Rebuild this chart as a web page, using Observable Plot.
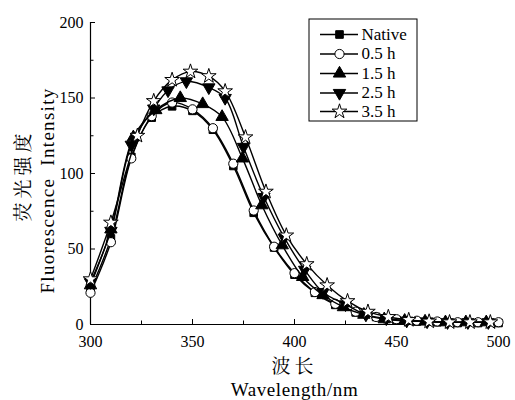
<!DOCTYPE html>
<html><head><meta charset="utf-8">
<script src="https://cdn.jsdelivr.net/npm/d3@7"></script>
<script src="https://cdn.jsdelivr.net/npm/@observablehq/plot@0.6"></script>
<style>body{margin:0;background:#fff;}</style>
</head><body><div id="chart"></div>
<script>
// ---- data ----
const seriesNames = ["Native", "0.5 h", "1.5 h", "2.5 h", "3.5 h"];

const wlNative  = [300,310,320,330,340,350,360,370,380,390,400,410,420,430,440,450,460,470,480,490,500];
const intNative = [23,57,111,137,144.5,141.5,129,105,74,51,33,21,13,8,5,3,2,1.5,1,1,1];

const wl05  = [300,310,320,330,340,350,360,370,380,390,400,410,420,430,440,450,460,470,480,490,500];
const int05 = [21,54.5,110,138,147,142.5,130,106.5,75.5,51.5,34,21.5,13.7,8.5,5,3.5,2.5,2,1.5,1.5,1.5];

const wl15  = [300,310,321,332,344,355,364.5,374.5,384,394,404,414,424,434,444,454,464,474,484,494];
const int15 = [26,63,124,142,150,146,137.5,110,79,52.5,31.5,19.5,11.5,6.5,3.5,2.5,2,1.5,1.5,1.5];

const wl25  = [300,310,320,331,338,347,358,366,375,385,395,405,414,425,435,445,455,465,475,485,495];
const int25 = [28,62,119,143,155,161,157,150,117.6,84.4,57.5,36.2,21.4,13.3,6.5,4,2.5,2,1.5,1.5,1.5];

const wl35  = [300,310,323,331,340,349,358,366,376,386,396,406,416,426,436,446,456,466,476,486,496];
const int35 = [30,67.5,125,148,162,167.5,164.5,154.5,124,88,59,40,26,15.5,8.5,5,3,2,1.5,1.5,1.5];

const xTicks = [300,350,400,450,500];
const xMinor = [325,375,425,475];
const yTicks = [0,50,100,150,200];
const yMinor = [25,75,125,175];

// ---- layout ----
const W = 515, H = 400, mL = 90, mR = 17, mT = 22, mB = 76;
const xDom = [300,500], yDom = [0,200];
const SERIF = "'Liberation Serif', 'DejaVu Serif', serif";
const CJK = "'Noto Serif CJK SC', 'Noto Sans CJK SC', serif";
const px2x = px => xDom[0] + (px - mL) * (xDom[1]-xDom[0]) / (W - mL - mR);
const px2y = py => yDom[0] + ((H - mB) - py) * (yDom[1]-yDom[0]) / (H - mB - mT);
const dxu = px => px * (xDom[1]-xDom[0]) / (W - mL - mR);
const dyu = px => px * (yDom[1]-yDom[0]) / (H - mB - mT);

const styles = [
  {symbol: "square",   fill: "black", rotate: 0,   r: 4.3},
  {symbol: "circle",   fill: "white", rotate: 0,   r: 4.6},
  {symbol: "triangle", fill: "black", rotate: 0,   r: 4.6},
  {symbol: "triangle", fill: "black", rotate: 180, r: 4.6},
  {symbol: "star",     fill: "white", rotate: 0,   r: 4.6}
];
const wls = [wlNative, wl05, wl15, wl25, wl35];
const ints = [intNative, int05, int15, int25, int35];
const rows = seriesNames.map((s, k) => wls[k].map((w, i) => ({series: s, k, wl: w, v: ints[k][i]})));

const marks = [];
marks.push(Plot.ruleY([0], {stroke: "black", strokeWidth: 1.2}));
marks.push(Plot.ruleX([300], {stroke: "black", strokeWidth: 1.2}));
marks.push(Plot.ruleX(xTicks, {x: d => d, y1: 0, y2: dyu(5), stroke: "black"}));
marks.push(Plot.ruleX(xMinor, {x: d => d, y1: 0, y2: dyu(3.5), stroke: "black"}));
marks.push(Plot.ruleY(yTicks, {y: d => d, x1: 300, x2: 300 + dxu(5), stroke: "black"}));
marks.push(Plot.ruleY(yMinor, {y: d => d, x1: 300, x2: 300 + dxu(3.5), stroke: "black"}));
marks.push(Plot.axisX({ticks: xTicks, tickSize: 0, tickPadding: 11, tickFormat: d => String(d), label: null, fontSize: 16, fontFamily: SERIF}));
marks.push(Plot.axisY({ticks: yTicks, tickSize: 0, tickPadding: 7, tickFormat: d => String(d), label: null, fontSize: 16, fontFamily: SERIF}));

rows.forEach((data, k) => {
  const st = styles[k];
  marks.push(Plot.line(data, {x: "wl", y: "v", curve: "catmull-rom", stroke: "black", strokeWidth: 1.4}));
  marks.push(Plot.dot(data, {x: "wl", y: "v", symbol: st.symbol, fill: st.fill, stroke: "black", strokeWidth: 1, r: st.r, rotate: st.rotate}));
});

// legend
const legTop = 19, legBottom = 121, legLeft = 309, legRight = 417;
marks.push(Plot.rect([0], {x1: px2x(legLeft), x2: px2x(legRight), y1: px2y(legBottom), y2: px2y(legTop), fill: "white", stroke: "black", strokeWidth: 1}));
const legY = [34, 53.5, 73, 92.5, 111];
seriesNames.forEach((s, k) => {
  const st = styles[k];
  const yv = px2y(legY[k]);
  marks.push(Plot.ruleY([yv], {x1: px2x(320), x2: px2x(358), stroke: "black", strokeWidth: 1.4}));
  marks.push(Plot.dot([0], {x: () => px2x(339), y: () => yv, symbol: st.symbol, fill: st.fill, stroke: "black", strokeWidth: 1, r: st.r, rotate: st.rotate}));
  marks.push(Plot.text([s], {x: () => px2x(361), y: () => yv, text: d => d, textAnchor: "start", fontSize: 17, fontFamily: SERIF}));
});

// axis titles
marks.push(Plot.text(["荧光强度"], {frameAnchor: "left", textAnchor: "middle", lineAnchor: "middle", rotate: -90, dx: -67, dy: 2, text: d => d, fontSize: 19, fontFamily: CJK}));
marks.push(Plot.text(["Fluorescence  Intensity"], {frameAnchor: "left", textAnchor: "middle", lineAnchor: "middle", rotate: -90, dx: -43, dy: 17, text: d => d, fontSize: 19, fontFamily: SERIF}));
marks.push(Plot.text(["波长"], {frameAnchor: "bottom", textAnchor: "middle", lineAnchor: "middle", dy: 42, text: d => d, fontSize: 19, fontFamily: CJK}));
marks.push(Plot.text(["Wavelength/nm"], {frameAnchor: "bottom", textAnchor: "middle", lineAnchor: "middle", dy: 65, text: d => d, fontSize: 19, fontFamily: SERIF}));

const chart = Plot.plot({
  width: W, height: H,
  marginLeft: mL, marginRight: mR, marginTop: mT, marginBottom: mB,
  x: {domain: xDom},
  y: {domain: yDom},
  style: "background: white; color: black; overflow: visible; font-family: 'Liberation Serif', serif; font-size: 16px;",
  marks
});
d3.select(chart).selectAll("text").each(function() {
  const t = this.textContent;
  if (t === "荧光强度") this.style.letterSpacing = "4px";
  else if (t === "波长") this.style.letterSpacing = "4px";
  else if (t.startsWith("Fluorescence")) this.style.letterSpacing = "1.3px";
  else if (t === "Wavelength/nm") this.style.letterSpacing = "0.6px";
});
document.getElementById("chart").appendChild(chart);
</script>
</body></html>
